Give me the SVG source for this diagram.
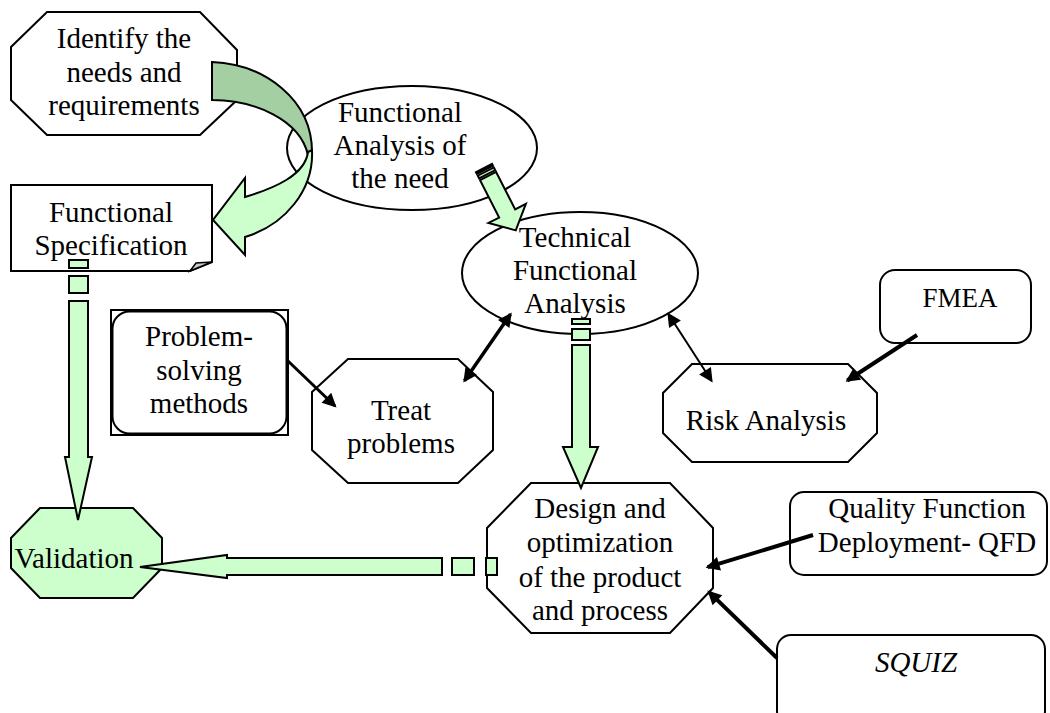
<svg xmlns="http://www.w3.org/2000/svg" width="1050" height="713" viewBox="0 0 1050 713">
<defs>
<style>
.n{fill:#fff;stroke:#000;stroke-width:2}
.g{fill:#ccffcc;stroke:#000;stroke-width:2}
.dg{fill:#a3cfa3;stroke:#000;stroke-width:2}
.t{font-family:'Liberation Serif','DejaVu Serif',serif;font-size:29px;fill:#000;text-anchor:middle}
.ln{stroke:#000;fill:none}
</style>
<marker id="ah" viewBox="0 0 10 10" refX="8.5" refY="5" markerWidth="18" markerHeight="14" markerUnits="userSpaceOnUse" orient="auto-start-reverse"><path d="M0,0 L10,5 L0,10 z" fill="#000"/></marker>
</defs>
<rect width="1050" height="713" fill="#fff"/>

<g id="identify">
<polygon class="n" points="47,12 200,12 237,50 237,100 200,135 47,135 11,100 11,47"/>
<text class="t" x="124" y="48" font-family="Liberation Serif, serif">Identify the</text>
<text class="t" x="124" y="82" font-family="Liberation Serif, serif">needs and</text>
<text class="t" x="124" y="115" font-family="Liberation Serif, serif">requirements</text>
</g>

<g id="funcspec">
<path class="n" d="M11,185 H212 V262 L190,271 H11 Z"/>
<path d="M190,271 L196,263 L212,262 Z" fill="#c8c8c8" stroke="#000" stroke-width="1.5"/>
<text class="t" x="111" y="222" font-family="Liberation Serif, serif">Functional</text>
<text class="t" x="111" y="255" font-family="Liberation Serif, serif">Specification</text>
</g>

<g id="funcanalysis">
<ellipse class="n" cx="412" cy="148" rx="125" ry="62"/>
<text class="t" x="400" y="122" font-family="Liberation Serif, serif">Functional</text>
<text class="t" x="400" y="155" font-family="Liberation Serif, serif">Analysis of</text>
<text class="t" x="400" y="188" font-family="Liberation Serif, serif">the need</text>
</g>

<g id="technical">
<ellipse class="n" cx="580" cy="273" rx="118" ry="61"/>
<text class="t" x="575" y="247" font-family="Liberation Serif, serif">Technical</text>
<text class="t" x="575" y="280" font-family="Liberation Serif, serif">Functional</text>
<text class="t" x="575" y="313" font-family="Liberation Serif, serif">Analysis</text>
</g>

<g id="problemsolving">
<rect x="111" y="310" width="177" height="125" fill="#fff" stroke="#000" stroke-width="2"/>
<rect x="112.5" y="311.5" width="174" height="122" rx="17" fill="#fff" stroke="#000" stroke-width="2"/>
<text class="t" x="199" y="346" font-family="Liberation Serif, serif">Problem-</text>
<text class="t" x="199" y="380" font-family="Liberation Serif, serif">solving</text>
<text class="t" x="199" y="413" font-family="Liberation Serif, serif">methods</text>
</g>

<g id="treat">
<polygon class="n" points="348,359 458,359 493,392 493,450 458,483 348,483 312,450 312,392"/>
<text class="t" x="401" y="420" font-family="Liberation Serif, serif">Treat</text>
<text class="t" x="401" y="453" font-family="Liberation Serif, serif">problems</text>
</g>

<g id="fmea">
<rect class="n" x="880" y="270" width="151" height="73" rx="15"/>
<text class="t" x="960" y="307" font-family="Liberation Serif, serif" style="font-size:27px">FMEA</text>
</g>

<g id="risk">
<polygon class="n" points="692,364 848,364 877,393 877,433 848,462 692,462 663,433 663,393"/>
<text class="t" x="766" y="430" font-family="Liberation Serif, serif">Risk Analysis</text>
</g>

<g id="validation">
<polygon class="g" points="40,508 133,508 162,538 162,568 133,598 40,598 11,568 11,538"/>
<text class="t" x="74" y="568" font-family="Liberation Serif, serif">Validation</text>
</g>

<g id="design">
<polygon class="n" points="531,483 670,483 713,528 713,588 670,633 531,633 487,588 487,528"/>
<text class="t" x="600" y="518" font-family="Liberation Serif, serif">Design and</text>
<text class="t" x="600" y="552" font-family="Liberation Serif, serif">optimization</text>
<text class="t" x="600" y="587" font-family="Liberation Serif, serif">of the product</text>
<text class="t" x="600" y="620" font-family="Liberation Serif, serif">and process</text>
</g>

<g id="qfd">
<rect class="n" x="790" y="492" width="257" height="83" rx="14"/>
<text class="t" x="927" y="518" font-family="Liberation Serif, serif">Quality Function</text>
<text class="t" x="927" y="552" font-family="Liberation Serif, serif">Deployment- QFD</text>
</g>

<g id="squiz">
<rect class="n" x="777" y="635" width="268" height="90" rx="14"/>
<text class="t" x="916" y="672" font-family="Liberation Serif, serif" style="font-style:italic">SQUIZ</text>
</g>

<g id="connectors">
<path class="dg" d="M212,62 C265,64 312,100 312,152 L308,155 C300,120 255,100 212,100 Z"/>
<path class="g" d="M312,150 C314,190 285,225 245,237 L245,255 L213,220 L245,178 L245,197 C275,188 305,175 308,152 Z"/>

<g transform="translate(484,168) rotate(63)">
<rect class="g" x="0" y="-9" width="2" height="18" stroke-width="1.5"/>
<rect class="g" x="4" y="-9" width="3" height="18" stroke-width="1.5"/>
<path class="g" d="M9,-9 H51 V-21 L70,0 L51,21 V9 H9 Z"/>
</g>

<rect class="g" x="69" y="260" width="19" height="8"/>
<rect class="g" x="69" y="276" width="19" height="17"/>
<path class="g" d="M69,301 H88 V457 H92 L78,520 L65,457 H69 Z"/>

<rect class="g" x="572" y="319" width="18" height="5"/>
<rect class="g" x="572" y="329" width="18" height="11"/>
<path class="g" d="M572,345 H590 V447 H598 L581,488 L563,447 H572 Z"/>

<rect class="g" x="486" y="558" width="11" height="17"/>
<rect class="g" x="452" y="558" width="22" height="17"/>
<path class="g" d="M442,558 V575 H227 V578 L140,567 L227,555 V558 Z"/>

<line class="ln" x1="288" y1="361" x2="335" y2="406" stroke-width="3" marker-end="url(#ah)"/>
<line class="ln" x1="510.5" y1="314.2" x2="464.5" y2="380.8" stroke-width="3.5" marker-start="url(#ah)" marker-end="url(#ah)"/>
<line class="ln" x1="668.5" y1="314.3" x2="711.5" y2="380.7" stroke-width="2" marker-start="url(#ah)" marker-end="url(#ah)"/>
<line class="ln" x1="917" y1="335" x2="847.3" y2="380.5" stroke-width="4" marker-end="url(#ah)"/>
<line class="ln" x1="813" y1="535" x2="707.6" y2="567.2" stroke-width="4" marker-end="url(#ah)"/>
<line class="ln" x1="777" y1="658" x2="708.9" y2="591.9" stroke-width="4" marker-end="url(#ah)"/>
</g>
</svg>
